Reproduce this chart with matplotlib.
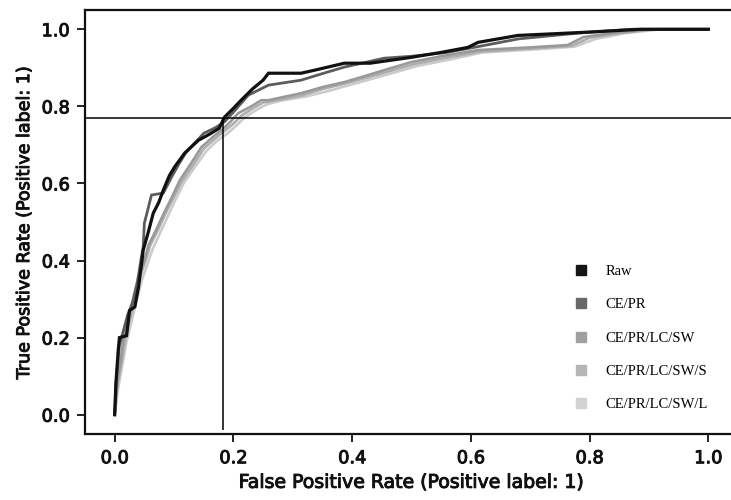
import matplotlib
matplotlib.use("Agg")
import matplotlib.pyplot as plt
import matplotlib.patheffects as pe
from matplotlib.lines import Line2D

labels = ["Raw", "CE/PR", "CE/PR/LC/SW", "CE/PR/LC/SW/S", "CE/PR/LC/SW/L"]
colors = ["#111111", "#5c5c5c", "#999999", "#aeaeae", "#cbcbcb"]
legend_colors = ["#151515", "#686868", "#a0a0a0", "#b6b6b6", "#d2d2d2"]

raw_fpr = [0, 0.002, 0.006, 0.008, 0.02, 0.025, 0.034, 0.04, 0.046, 0.048, 0.056, 0.065, 0.074, 0.082,
           0.092, 0.101, 0.118, 0.141, 0.160, 0.176, 0.185, 0.2, 0.213, 0.232, 0.25, 0.259, 0.314, 0.34,
           0.387, 0.43, 0.499, 0.55, 0.595, 0.612, 0.679, 0.79, 0.886, 1.0]
raw_tpr = [0, 0.08, 0.168, 0.2, 0.205, 0.27, 0.28, 0.33, 0.40, 0.427, 0.47, 0.523, 0.55, 0.583,
           0.62, 0.643, 0.679, 0.712, 0.728, 0.743, 0.772, 0.795, 0.816, 0.845, 0.868, 0.886, 0.886, 0.895,
           0.912, 0.912, 0.927, 0.94, 0.953, 0.966, 0.984, 0.992, 1.0, 1.0]

cepr_fpr = [0, 0.003, 0.008, 0.015, 0.022, 0.03, 0.038, 0.044, 0.048, 0.05, 0.062, 0.082, 0.096, 0.108,
            0.12, 0.15, 0.17, 0.185, 0.2, 0.225, 0.259, 0.314, 0.35, 0.387, 0.454, 0.5, 0.56, 0.612,
            0.68, 0.78, 0.87, 0.95, 1.0]
cepr_tpr = [0, 0.1, 0.18, 0.22, 0.26, 0.29, 0.34, 0.40, 0.435, 0.497, 0.57, 0.575, 0.617, 0.65,
            0.68, 0.73, 0.745, 0.76, 0.785, 0.829, 0.855, 0.868, 0.885, 0.902, 0.925, 0.93, 0.94, 0.955,
            0.975, 0.99, 1.0, 1.0, 1.0]

sw_fpr = [0, 0.004, 0.01, 0.015, 0.022, 0.031, 0.04, 0.05, 0.057, 0.07, 0.082, 0.095, 0.11, 0.13,
          0.146, 0.165, 0.18, 0.195, 0.208, 0.23, 0.247, 0.259, 0.314, 0.35, 0.387, 0.42, 0.454, 0.5,
          0.55, 0.612, 0.7, 0.763, 0.79, 0.847, 0.9, 1.0]
sw_tpr = [0, 0.08, 0.14, 0.2, 0.25, 0.3, 0.36, 0.4, 0.44, 0.48, 0.52, 0.56, 0.609, 0.655,
          0.694, 0.72, 0.738, 0.76, 0.782, 0.8, 0.816, 0.816, 0.834, 0.85, 0.863, 0.878, 0.894, 0.915,
          0.93, 0.946, 0.953, 0.959, 0.98, 0.992, 1.0, 1.0]

sws_fpr = [0, 0.005, 0.012, 0.018, 0.026, 0.034, 0.043, 0.052, 0.06, 0.073, 0.085, 0.098, 0.113, 0.133,
           0.15, 0.168, 0.184, 0.2, 0.213, 0.233, 0.25, 0.27, 0.314, 0.35, 0.39, 0.425, 0.46, 0.505,
           0.555, 0.615, 0.7, 0.77, 0.8, 0.85, 0.91, 1.0]
sws_tpr = [0, 0.08, 0.14, 0.2, 0.25, 0.3, 0.36, 0.4, 0.44, 0.48, 0.52, 0.56, 0.605, 0.65,
           0.69, 0.715, 0.735, 0.755, 0.775, 0.795, 0.81, 0.815, 0.828, 0.845, 0.86, 0.875, 0.89, 0.91,
           0.925, 0.942, 0.95, 0.957, 0.978, 0.99, 1.0, 1.0]

swl_fpr = [0, 0.006, 0.013, 0.02, 0.028, 0.036, 0.046, 0.055, 0.064, 0.076, 0.088, 0.1, 0.116, 0.136,
           0.155, 0.172, 0.19, 0.205, 0.218, 0.238, 0.256, 0.28, 0.32, 0.36, 0.395, 0.43, 0.465, 0.51,
           0.56, 0.62, 0.71, 0.775, 0.81, 0.86, 0.92, 1.0]
swl_tpr = [0, 0.07, 0.13, 0.19, 0.24, 0.29, 0.35, 0.39, 0.43, 0.47, 0.51, 0.55, 0.6, 0.645,
           0.685, 0.71, 0.73, 0.75, 0.77, 0.79, 0.805, 0.815, 0.825, 0.84, 0.855, 0.87, 0.885, 0.905,
           0.92, 0.94, 0.948, 0.955, 0.975, 0.99, 1.0, 1.0]

thr_fpr = 0.183
thr_tpr = 0.769

xticks = [0.0, 0.2, 0.4, 0.6, 0.8, 1.0]
yticks = [0.0, 0.2, 0.4, 0.6, 0.8, 1.0]

series = [(raw_fpr, raw_tpr), (cepr_fpr, cepr_tpr), (sw_fpr, sw_tpr), (sws_fpr, sws_tpr), (swl_fpr, swl_tpr)]
widths = [2.3, 2.0, 1.9, 1.9, 1.9]

fig = plt.figure(figsize=(7.31, 5.0), dpi=100)
ax = fig.add_axes([85 / 731, 66 / 500, 653 / 731, 424 / 500])

for i in reversed(range(len(series))):
    fx, ty = series[i]
    ax.plot(fx, ty, color=colors[i], lw=widths[i], solid_joinstyle="miter", zorder=3 + (5 - i))

ax.axhline(thr_tpr, color="black", lw=1.1, zorder=10)
ax.vlines(thr_fpr, -0.04, thr_tpr, color="black", lw=1.1, zorder=10)

ax.set_xlim(-0.05, 1.05)
ax.set_ylim(-0.05, 1.05)
ax.set_xticks(xticks)
ax.set_yticks(yticks)
ax.set_xticklabels([f"{t:.1f}" for t in xticks])
ax.set_yticklabels([f"{t:.1f}" for t in yticks])

stroke = [pe.withStroke(linewidth=0.7, foreground="#111111")]
for lab in ax.get_xticklabels() + ax.get_yticklabels():
    lab.set_fontsize(12.8)
    lab.set_color("#111111")
    lab.set_path_effects(stroke)

ax.tick_params(direction="out", length=6, width=1.3, pad=5, colors="#111111")
for s in ax.spines.values():
    s.set_linewidth(1.6)
    s.set_color("#111111")

ax.set_xlabel("False Positive Rate (Positive label: 1)", fontsize=13.6, color="#111111", labelpad=4,
              path_effects=stroke)
ax.set_ylabel("True Positive Rate (Positive label: 1)", fontsize=12.6, color="#111111", labelpad=6,
              path_effects=stroke)

handles = [Line2D([], [], marker="s", linestyle="None", color=c, markersize=7) for c in legend_colors]
leg = ax.legend(handles, labels, loc="upper left", bbox_to_anchor=(0.737, 0.416), frameon=False,
                prop={"family": "Liberation Serif", "size": 10.5}, labelspacing=1.38,
                handlelength=1.0, handletextpad=1.2, borderpad=0)

fig.savefig("out.png", dpi=100)
